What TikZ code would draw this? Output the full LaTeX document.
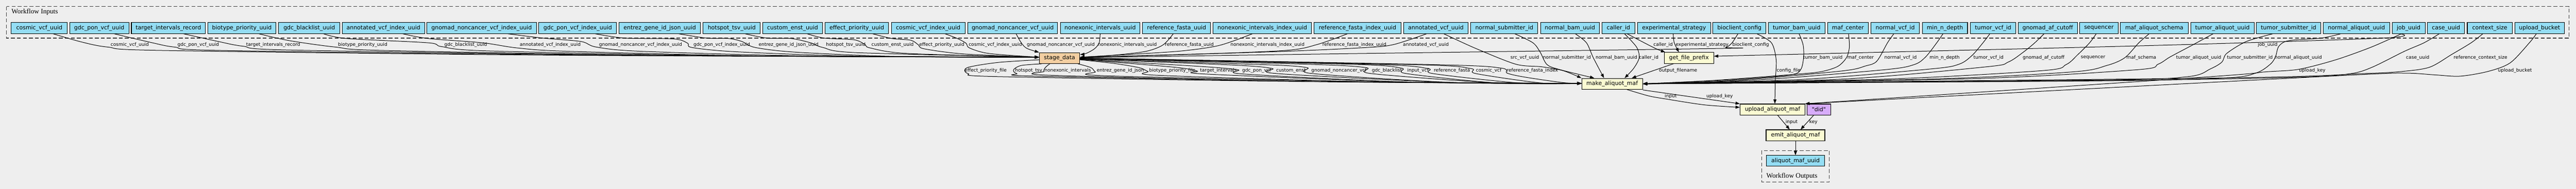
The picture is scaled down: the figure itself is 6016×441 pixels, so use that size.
\documentclass[tikz,border=0pt]{standalone}
\usepackage{fontspec}
\usetikzlibrary{arrows.meta,calc}
\newfontfamily\dvs{DejaVu Sans}
\newfontfamily\lser{Liberation Serif}
\newcommand\nodefnt{\dvs\fontsize{13.2}{15}\selectfont}
\newcommand\edgefnt{\dvs\fontsize{10.9}{12}\selectfont}
\newcommand\titlefnt{\lser\fontsize{16}{18}\selectfont}
\definecolor{bgc}{RGB}{238,238,238}
\definecolor{inpc}{RGB}{148,221,244}
\definecolor{stepc}{RGB}{250,250,210}
\definecolor{stagec}{RGB}{243,206,161}
\definecolor{didc}{RGB}{215,172,250}
\definecolor{clusc}{RGB}{60,60,60}
\newcommand\inode[4]{\node[inp,minimum width=#3pt] (#1) at (#2,65.3) {#4};}
\newcommand\pe[1]{\draw[e] plot[smooth,tension=0.5] coordinates {#1};}
\newcommand\elab[4]{\node[el] (#1) at (#2,#3) {#4};}
\begin{document}
\begin{tikzpicture}[x=1pt,y=-1pt,
 inp/.style={draw=black,line width=1.3pt,fill=inpc,minimum height=26pt,inner sep=0pt,font=\nodefnt},
 stepn/.style={draw=black,line width=1.3pt,fill=stepc,minimum height=25.5pt,inner sep=0pt,font=\nodefnt},
 el/.style={font=\edgefnt,inner sep=0pt},
 e/.style={line width=1.2pt,-{Triangle[length=10pt,width=7pt]}},
 ln/.style={line width=1.2pt},
 clus/.style={draw=clusc,dash pattern=on 9pt off 5pt,line width=1.3pt}]
\fill[bgc] (0,0) rectangle (6016,441);
\useasboundingbox (0,0) rectangle (6016,441);
\draw[clus] (15.3,15.3) rectangle (6000,89);
\node[anchor=west,font=\titlefnt,inner sep=0pt] (tin) at (26.8,27.7) {Workflow Inputs};
\draw[clus] (4114.3,351.7) rectangle (4272,425);
\node[anchor=west,font=\titlefnt,inner sep=0pt] (tout) at (4125,411.7) {Workflow Outputs};
% inputs
\inode{i1}{91.8}{131.4}{cosmic\_vcf\_uuid}
\inode{i2}{231.8}{138.4}{gdc\_pon\_vcf\_uuid}
\inode{i3}{393.2}{172.8}{target\_intervals\_record}
\inode{i4}{565}{159.5}{biotype\_priority\_uuid}
\inode{i5}{722.3}{143.5}{gdc\_blacklist\_uuid}
\inode{i6}{895.4}{192.7}{annotated\_vcf\_index\_uuid}
\inode{i7}{1124.7}{255.8}{gnomad\_noncancer\_vcf\_index\_uuid}
\inode{i8}{1349.2}{181.7}{gdc\_pon\_vcf\_index\_uuid}
\inode{i9}{1540.8}{190}{entrez\_gene\_id\_json\_uuid}
\inode{i10}{1708.9}{133.3}{hotspot\_tsv\_uuid}
\inode{i11}{1851}{139.7}{custom\_enst\_uuid}
\inode{i12}{2001}{148.6}{effect\_priority\_uuid}
\inode{i13}{2167.7}{172.2}{cosmic\_vcf\_index\_uuid}
\inode{i14}{2365.1}{209.8}{gnomad\_noncancer\_vcf\_uuid}
\inode{i15}{2569.2}{185.6}{nonexonic\_intervals\_uuid}
\inode{i16}{2747.8}{158.8}{reference\_fasta\_uuid}
\inode{i17}{2948}{230}{nonexonic\_intervals\_index\_uuid}
\inode{i18}{3170.3}{202.8}{reference\_fasta\_index\_uuid}
\inode{i19}{3353.3}{150.6}{annotated\_vcf\_uuid}
\inode{i20}{3513.1}{156.2}{normal\_submitter\_id}
\inode{i21}{3666.5}{137.7}{normal\_bam\_uuid}
\inode{i22}{3779.6}{77.2}{caller\_id}
\inode{i23}{3909.5}{170.9}{experimental\_strategy}
\inode{i24}{4062.2}{124.4}{bioclient\_config}
\inode{i25}{4195.8}{132.5}{tumor\_bam\_uuid}
\inode{i26}{4315.7}{95.6}{maf\_center}
\inode{i27}{4426}{113.5}{normal\_vcf\_id}
\inode{i28}{4542.1}{105.8}{min\_n\_depth}
\inode{i29}{4654.7}{106.5}{tumor\_vcf\_id}
\inode{i30}{4782.2}{138.4}{gnomad\_af\_cutoff}
\inode{i31}{4901.7}{89.4}{sequencer}
\inode{i32}{5031.1}{157.8}{maf\_aliquot\_schema}
\inode{i33}{5190.2}{148.4}{tumor\_aliquot\_uuid}
\inode{i34}{5344.7}{150.4}{tumor\_submitter\_id}
\inode{i35}{5503.2}{154.9}{normal\_aliquot\_uuid}
\inode{i36}{5625}{77.1}{job\_uuid}
\inode{i37}{5712.4}{86.2}{case\_uuid}
\inode{i38}{5814.5}{105}{context\_size}
\inode{i39}{5930.8}{116}{upload\_bucket}
% steps
\node[stepn,fill=stagec,minimum width=94.4pt] (sd) at (2474.5,135.7) {stage\_data};
\node[stepn,minimum width=115.5pt] (gfp) at (3944.3,135.3) {get\_file\_prefix};
\node[stepn,minimum width=142.1pt] (mk) at (3765,195.8) {make\_aliquot\_maf};
\node[stepn,minimum width=151.5pt] (up) at (4139.5,255.8) {upload\_aliquot\_maf};
\node[stepn,fill=didc,minimum width=54.6pt] (did) at (4247.7,255.8) {"did"};
\node[stepn,minimum width=137.2pt] (emit) at (4193.1,316) {emit\_aliquot\_maf};
\node[inp,minimum width=135.2pt,minimum height=25pt] (out) at (4193.1,375.8) {aliquot\_maf\_uuid};
% ---- inputs -> stage_data (west)
\pe{($(i1.south)+(32.2,0)$) (190,98) (252,110) (383,118) (1300,129) ($(sd.west)+(0,-2)$)}
\pe{($(i2.south)+(34.8,0)$) (356,100) (408,110) (520,118) (1400,129) ($(sd.west)+(0,-2)$)}
\pe{($(i3.south)+(35.4,0)$) (510,97) (568,108) (680,117) (1500,129) ($(sd.west)+(0,-2)$)}
\pe{($(i4.south)+(39.6,0)$) (676,95) (784,110) (900,118) (1600,130) ($(sd.west)+(0,-2)$)}
\pe{($(i5.south)+(33.4,0)$) (810,90) (1000,100) (1032,109) (1140,119) (1700,130) ($(sd.west)+(0,-2)$)}
\pe{($(i6.south)+(45.3,0)$) (1000,90) (1127,100) (1208,112) (1330,120) (1800,131) ($(sd.west)+(0,-2)$)}
\pe{($(i7.south)+(61.3,0)$) (1268,89) (1357,97) (1393,110) (1500,120) (1900,131) ($(sd.west)+(0,-2)$)}
\pe{($(i8.south)+(40.8,0)$) (1459,89) (1574,91) (1606,101) (1616,111) (1720,121) (2000,131) ($(sd.west)+(0,-2)$)}
\pe{($(i9.south)+(44.2,0)$) (1650,89) (1702,90) (1733,97) (1764,111) (1860,122) (2100,132) ($(sd.west)+(0,-2)$)}
\pe{($(i10.south)+(31.1,0)$) (1791,89) (1848,90) (1893,100) (1922,111) (2000,123) ($(sd.west)+(0,-2)$)}
\pe{($(i11.south)+(34,0)$) (1925,89) (1995,93) (2020,104) (2032,112) (2120,125) ($(sd.west)+(0,-2)$)}
\pe{($(i12.south)+(37,0)$) (2083,90) (2127,94) (2145,105) (2158,114) (2250,126) ($(sd.west)+(0,-2)$)}
\pe{($(i13.south)+(39.3,0)$) (2236,90) (2256,101) (2264,112) (2310,125) ($(sd.west)+(0,-2)$)}
% top of stage_data
\pe{($(i14.south)+(7.9,0)$) (2385,100) (2398,113) (sd.north west)}
\pe{(i15.south) (2567,100) (2556,114) (2536,125) ($(sd.north east)+(0,5)$)}
% stage_data east
\pe{($(i16.south)+(-7.8,0)$) (2716,105) (2676,120) (2600,129) ($(sd.east)+(0,-2)$)}
\pe{($(i17.south)+(-23.3,0)$) (2848,106) (2760,119) (2640,127) ($(sd.east)+(0,-2)$)}
\pe{($(i18.south)+(-23.6,0)$) (3076,104) (3000,118) (2750,128) ($(sd.east)+(0,-2)$)}
\pe{($(i19.south)+(-21.7,0)$) (3255,104) (3191,111) (3000,120) (2700,129) ($(sd.east)+(0,-2)$)}
\pe{($(i24.south)+(-3.5,0)$) (4045,100) (4030,111) (4000,113.5) (3000,127.5) (2700,132) ($(sd.east)+(0,-1)$)}
% labels to stage_data
\elab{l1}{303}{105}{cosmic\_vcf\_uuid}
\elab{l2}{463}{105}{gdc\_pon\_vcf\_uuid}
\elab{l3}{638}{105}{target\_intervals\_record}
\elab{l4}{847}{105}{biotype\_priority\_uuid}
\elab{l5}{1087.7}{105}{gdc\_blacklist\_uuid}
\elab{l6}{1285}{105}{annotated\_vcf\_index\_uuid}
\elab{l7}{1495.9}{105}{gnomad\_noncancer\_vcf\_index\_uuid}
\elab{l8}{1685.6}{105}{gdc\_pon\_vcf\_index\_uuid}
\elab{l9}{1841.5}{105}{entrez\_gene\_id\_json\_uuid}
\elab{l10}{1975.4}{105}{hotspot\_tsv\_uuid}
\elab{l11}{2084.5}{105}{custom\_enst\_uuid}
\elab{l12}{2199.5}{105}{effect\_priority\_uuid}
\elab{l13}{2324.4}{105}{cosmic\_vcf\_index\_uuid}
\elab{l14}{2477.3}{105}{gnomad\_noncancer\_vcf\_uuid}
\elab{l15}{2632.7}{105}{nonexonic\_intervals\_uuid}
\elab{l16}{2777.6}{105}{reference\_fasta\_uuid}
\elab{l17}{2960}{105}{nonexonic\_intervals\_index\_uuid}
\elab{l18}{3163}{105}{reference\_fasta\_index\_uuid}
\elab{l19}{3330}{105}{annotated\_vcf\_uuid}
\elab{l24}{4088.5}{105}{bioclient\_config}
% ---- stage_data -> make_aliquot_maf (west)
\pe{($(sd.west)+(0,4)$) (2330,146) (2259,158) (2261,172) (2330,179) (3000,190) ($(mk.west)+(0,-1)$)}
\pe{($(sd.south west)+(6,0)$) (2385,153) (2367,163) (2375,172) (2420,178) (3100,191) ($(mk.west)+(0,-1)$)}
\pe{($(sd.south)+(-23,0)$) (2441,158) (2438,167) (2455,176) (3100,191) ($(mk.west)+(0,-1)$)}
\pe{($(sd.south east)+(-5,0)$) (2548,158) (2558,168) (2580,177) (3200,191) ($(mk.west)+(0,-1)$)}
\pe{($(sd.east)+(0,4)$) (2600,148) (2660,158) (2681,167) (2705,176) (3200,191) ($(mk.west)+(0,-1)$)}
\pe{($(sd.east)+(0,3)$) (2742,157) (2796,166) (2815,173) (3300,192) ($(mk.west)+(0,-1)$)}
\pe{($(sd.east)+(0,3)$) (2800,155) (2891,163) (2905,173) (3300,192) ($(mk.west)+(0,-1)$)}
\pe{($(sd.east)+(0,2)$) (2880,152) (2971,160) (2983,172) (3400,193) ($(mk.west)+(0,-1)$)}
\pe{($(sd.east)+(0,2)$) (2950,151) (3052,158) (3066,172) (3400,193) ($(mk.west)+(0,-1)$)}
\pe{($(sd.east)+(0,1)$) (3050,150) (3190,158) (3203,172) (3500,194) ($(mk.west)+(0,-1)$)}
\pe{($(sd.east)+(0,1)$) (3150,150) (3272,159) (3285,172) (3500,194) ($(mk.west)+(0,-1)$)}
\pe{($(sd.east)+(0,0)$) (3200,150) (3334,160) (3347,172) (3550,194) ($(mk.west)+(0,-1)$)}
\pe{($(sd.east)+(0,0)$) (3300,151) (3434,160) (3447,172) (3600,194) ($(mk.west)+(0,-1)$)}
\pe{($(sd.east)+(0,0)$) (3350,151) (3505,159) (3520,171) (3560,180) (3650,193) ($(mk.west)+(0,-1)$)}
\elab{m1}{2302}{165}{effect\_priority\_file}
\elab{m2}{2402.3}{165}{hotspot\_tsv}
\elab{m3}{2493.5}{165}{nonexonic\_intervals}
\elab{m4}{2616.6}{165}{entrez\_gene\_id\_json}
\elab{m5}{2737.6}{165}{biotype\_priority\_file}
\elab{m6}{2845.6}{165}{target\_intervals}
\elab{m7}{2934.7}{165}{gdc\_pon\_vcf}
\elab{m8}{3015}{165}{custom\_enst}
\elab{m9}{3127}{165}{gnomad\_noncancer\_vcf}
\elab{m10}{3239}{165}{gdc\_blacklist}
\elab{m11}{3311.5}{165}{input\_vcf}
\elab{m12}{3391}{165}{reference\_fasta}
\elab{m13}{3476.7}{165}{cosmic\_vcf}
\elab{m14}{3578.8}{165}{reference\_fasta\_index}
% ---- top inputs of make_aliquot_maf and get_file_prefix
\pe{($(i19.south)+(18.5,0)$) (3446,113) (3540,150) (3600,156) (3650,165) (mk.north west)}
\pe{($(i20.south)+(24.5,0)$) (3580,100) (3597,122) (3613,151) (3644,163) ($(mk.north west)+(30,0)$)}
\pe{($(i21.south)+(12.5,0)$) (3705,100) (3721,135) ($(mk.north)+(-19,0)$)}
\pe{($(i22.south)+(14.4,0)$) (3822,110) (3828,135) (3815,160) ($(mk.north)+(29,0)$)}
\pe{($(i22.south)+(20.4,0)$) (3840,100) (3870,115) ($(gfp.north west)+(3,0)$)}
\pe{($(i23.south)+(-2,0)$) (3910,100) ($(gfp.north west)+(35,0)$)}
\draw[e] ($(gfp.south)+(-35.5,0)$) -- ($(mk.north east)+(-26,0)$);
\pe{($(i36.south)+(-19.2,0)$) (5563,89) (5000,107) ($(gfp.east)+(0,-4)$)}
\elab{n1}{3561}{135}{src\_vcf\_uuid}
\elab{n2}{3659.4}{135}{normal\_submitter\_id}
\elab{n3}{3774.9}{135}{normal\_bam\_uuid}
\elab{n4}{3850.4}{135}{caller\_id}
\elab{n5}{3884}{105}{caller\_id}
\elab{n6}{3975}{105}{experimental\_strategy}
\elab{n7}{3919}{165}{output\_filename}
\elab{n8}{5296}{105}{job\_uuid}
% ---- right inputs of make_aliquot_maf
\pe{($(i25.south)+(5.7,0)$) (4211,105) (4212,135) (4205,163) (4180,175) (4050,186) (mk.east)}
\pe{($(i26.south)+(1.3,0)$) (4319,110) (4312,135) (4292,155) (4255,167) (4200,173) (4000,188) (mk.east)}
\pe{($(i27.south)+(-3.2,0)$) (4408,100) (4383,143) (4357,154) (4300,166) (4050,188) (mk.east)}
\pe{($(i28.south)+(-4.5,0)$) (4523,100) (4497,133) (4470,151) (4400,163) (4100,187) (mk.east)}
\pe{($(i29.south)+(-7.7,0)$) (4631,100) (4605,130) (4575,150) (4510,161) (4200,186) (mk.east)}
\pe{($(i30.south)+(-8.6,0)$) (4752,100) (4725,122) (4690,145) (4640,156) (4300,185) (mk.east)}
\pe{($(i31.south)+(-6.3,0)$) (4880,100) (4852,128) (4825,151) (4770,165) (4400,185) (mk.east)}
\pe{($(i32.south)+(-12.1,0)$) (4995,100) (4962,135) (4920,153) (4840,168) (4500,185) (mk.east)}
\pe{($(i33.south)+(-21.7,0)$) (5117,107) (5068,133) (5040,150) (4990,163) (4600,184) (mk.east)}
\pe{($(i34.south)+(-36.9,0)$) (5246,97) (5200,125) (5189,145) (5162,161) (5110,179) (4900,187) (mk.east)}
\pe{($(i35.south)+(-36.7,0)$) (5421,89) (5345,95) (5322,108) (5314,133) (5302,150) (5270,170) (5200,182) (4900,189) (mk.east)}
\pe{($(i37.south)+(-15.8,0)$) (5661,100) (5615,120) (5540,157) (5490,172) (5380,180) (5000,187) (mk.east)}
\pe{($(i38.south)+(-16.2,0)$) (5771,100) (5726,127) (5674,157) (5609,167) (5518,172) (5200,182) (mk.east)}
\elab{r1}{4257}{135}{tumor\_bam\_uuid}
\elab{r2}{4345.3}{135}{maf\_center}
\elab{r3}{4438.5}{135}{normal\_vcf\_id}
\elab{r4}{4541.5}{135}{min\_n\_depth}
\elab{r5}{4644}{135}{tumor\_vcf\_id}
\elab{r6}{4772.6}{135}{gnomad\_af\_cutoff}
\elab{r7}{4888}{135}{sequencer}
\elab{r8}{5001}{135}{maf\_schema}
\elab{r9}{5134.8}{135}{tumor\_aliquot\_uuid}
\elab{r10}{5254.3}{135}{tumor\_submitter\_id}
\elab{r11}{5367.4}{135}{normal\_aliquot\_uuid}
\elab{r12}{5646.3}{135}{case\_uuid}
\elab{r13}{5793}{135}{reference\_context\_size}
% ---- upload_aliquot_maf inputs
\pe{($(i36.south)+(-17,0)$) (5538,110) (5454,140) (5368,162) (5290,168) (5150,180) (up.north east)}
\pe{($(i39.south)+(-7.5,0)$) (5907,100) (5862,147) (5810,167) (5745,178) (5687,175) (5622,171) (5520,174) (5000,201) (up.north east)}
\pe{($(i24.south)+(40.8,0)$) (4137,100) (4148,140) (4146,190) ($(up.north)+(5.5,0)$)}
\pe{($(mk.south)+(34.5,0)$) (3850,224) (3889,231) (3980,245) ($(up.west)+(0,-5)$)}
\draw[e] ($(mk.south east)+(0,1)$) -- (up.north west);
\elab{u1}{5400}{165}{upload\_key}
\elab{u2}{5873.4}{165}{upload\_bucket}
\elab{u3}{4177}{165}{config\_file}
\elab{u4}{3901.8}{225}{input}
\elab{u5}{4016}{225}{upload\_key}
% ---- emit and output
\draw[e] ($(up.south)+(12,0)$) -- ($(emit.north)+(-13.5,0)$);
\draw[e] ($(did.south)+(-12,0)$) -- ($(emit.north)+(12,0)$);
\draw[e] (emit.south) -- (out.north);
\elab{v1}{4184}{285}{input}
\elab{v2}{4235}{285}{key}
\end{tikzpicture}
\end{document}
